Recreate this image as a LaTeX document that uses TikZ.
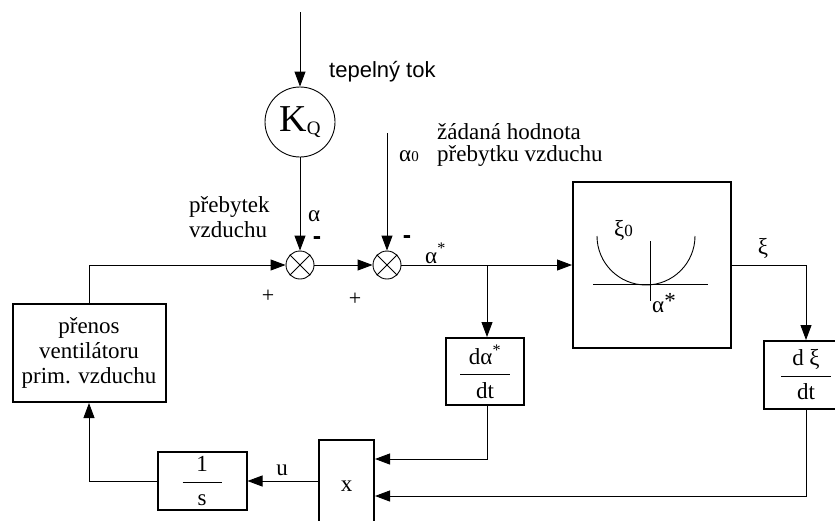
\documentclass[tikz,border=0pt]{standalone}
\usepackage{amsmath}
\usepackage{fontspec}
\setmainfont{Liberation Serif}
\newfontfamily\sansf{Liberation Sans}
\usetikzlibrary{arrows.meta}
\begin{document}
\begin{tikzpicture}[x=1pt,y=-1pt,
  conn/.style={line width=0.9pt,-{Triangle[length=15pt,width=11pt]}},
  plain/.style={line width=0.9pt},
  blk/.style={draw,line width=2pt,inner sep=0pt,font=\fontsize{23}{25}\selectfont,align=center},
  sumj/.style={draw,circle,line width=0.9pt,minimum size=28pt,inner sep=0pt},
  lbl/.style={inner sep=0pt,font=\fontsize{23}{25}\selectfont},
  sgn/.style={inner sep=0pt,font=\fontsize{25}{25}\selectfont\sansf\bfseries},
  pls/.style={inner sep=0pt,font=\fontsize{22}{22}\selectfont},
]
\clip (0,0) rectangle (835,520);
\useasboundingbox (0,0) rectangle (835,520);

% blocks
\node[draw,circle,line width=0.9pt,minimum size=70pt,inner sep=0pt,font=\fontsize{38}{38}\selectfont] (kq) at (300,122) {\raisebox{-6pt}{K\raisebox{-3pt}{\fontsize{19}{19}\selectfont Q}}};
\node[sumj] (s1) at (300,265) {};
\node[sumj] (s2) at (387,265) {};
\draw[plain] (s1.north west) -- (s1.south east) (s1.north east) -- (s1.south west);
\draw[plain] (s2.north west) -- (s2.south east) (s2.north east) -- (s2.south west);

\node[blk,minimum width=153pt,minimum height=98pt] (pv) at (89,353) {přenos\\ventilátoru\\prim. vzduchu};
\node[blk,minimum width=89pt,minimum height=58pt] (is) at (202,481) {$\dfrac{\makebox[39pt]{1}}{\mbox{s}}$};
\node[blk,minimum width=55pt,minimum height=92pt] (mx) at (346.5,486) {x};
\node[blk,minimum width=78pt,minimum height=67pt] (da) at (485,371.5) {$\dfrac{\makebox[50pt]{dα\textsuperscript{*}}}{\mbox{dt}}$};
\node[blk,minimum width=84pt,minimum height=68pt] (dx) at (806,375) {$\dfrac{\makebox[50pt]{d ξ}}{\mbox{dt}}$};
\node[blk,minimum width=158pt,minimum height=166pt] (pr) at (652,265) {};

% characteristic inside the big box
\draw[plain] (593,284) -- (708,284);
\draw[plain] (650,241) -- (650,301);
\draw[plain] (597,236) arc[start angle=180,end angle=0,radius=49];
\node[lbl,anchor=base west] (xi0) at (614,236) {ξ{\fontsize{17}{17}\selectfont 0}};
\node[lbl,anchor=base west] (as2) at (652,312) {α\raisebox{4pt}{*}};

% connectors
\coordinate (top) at (300,12);
\coordinate (a0) at (387,133);
\coordinate (j) at (487,265);
\path (mx.east) ++(0,-27) coordinate (xin1);
\path (mx.east) ++(0,10) coordinate (xin2);
\draw[conn] (top) -- (kq.north);
\draw[conn] (kq.south) -- (s1.north);
\draw[conn] (a0) -- (s2.north);
\draw[conn] (pv.north) |- (s1.west);
\draw[conn] (s1.east) -- (s2.west);
\draw[conn] (s2.east) -- (pr.west);
\draw[conn] (j) -- (j |- da.north);
\draw[conn] (pr.east) -| (dx.north);
\draw[conn] (j |- da.south) |- (xin1);
\draw[conn] (dx.south) |- (xin2);
\draw[conn] (mx.west |- is.east) -- (is.east);
\draw[conn] (is.west) -| (pv.south);

% labels
\node[inner sep=0pt,anchor=base west,font=\fontsize{22}{22}\selectfont\sansf] (tt) at (329,77) {tepelný tok};
\node[lbl,anchor=base west] (zh1) at (437,139) {žádaná hodnota};
\node[lbl,anchor=base west] (zh2) at (437,161) {přebytku vzduchu};
\node[lbl,anchor=base west] (pb1) at (189,212) {přebytek};
\node[lbl,anchor=base west] (pb2) at (189,237) {vzduchu};
\node[lbl,anchor=base west] (al) at (308,221) {α};
\node[lbl,anchor=base west] (al0) at (399,161) {α{\fontsize{15}{15}\selectfont 0}};
\node[lbl,anchor=base west] (als) at (425,263) {α\textsuperscript{*}};
\node[sgn] (m1) at (317,241) {-};
\node[sgn] (m2) at (407,240) {-};
\node[pls] (p1) at (268,296) {+};
\node[pls] (p2) at (355,299) {+};
\node[lbl,anchor=base] (xi) at (763,254) {ξ};
\node[lbl,anchor=base] (u) at (282,475) {u};
\end{tikzpicture}
\end{document}
